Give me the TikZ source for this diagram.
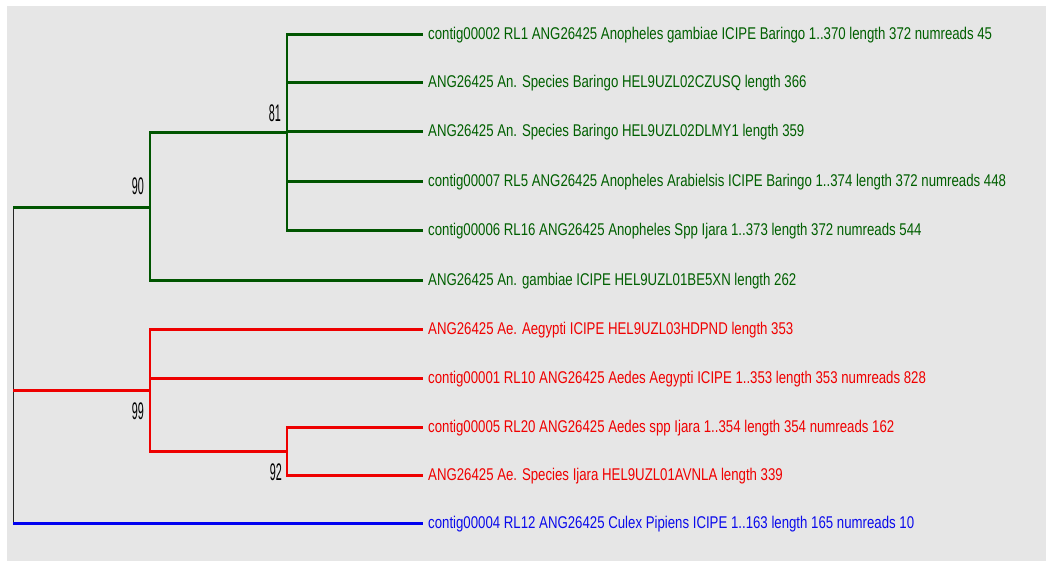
\documentclass[tikz,border=0pt]{standalone}
\usepackage{fontspec}
\newfontfamily\lblfont{Liberation Sans}[FakeStretch=0.778]
\newfontfamily\numfont{Liberation Sans}[FakeStretch=0.45]
\definecolor{gline}{RGB}{0,85,0}
\definecolor{gtext}{RGB}{0,95,0}
\definecolor{rline}{RGB}{238,0,0}
\definecolor{rtext}{RGB}{240,0,0}
\definecolor{bline}{RGB}{0,0,240}
\definecolor{btext}{RGB}{10,10,235}
\definecolor{bg}{RGB}{230,230,230}
\tikzset{
  hor/.style={line width=3pt,line cap=butt},
  vert/.style={line width=2pt,line cap=rect,shorten <=-0.5pt,shorten >=-0.5pt},
  leaf/.style={anchor=base west,inner sep=0pt,font=\lblfont\fontsize{17}{19}\selectfont},
  boot/.style={anchor=south east,inner sep=0pt,font=\numfont\fontsize{24}{26}\selectfont,text=black},
}
\begin{document}
\begin{tikzpicture}[x=1pt,y=-1pt]
\useasboundingbox (0,0) rectangle (1046,561);
\fill[bg] (7,6) rectangle (1046,561);
% internal nodes
\coordinate (r90) at (13,208);
\coordinate (r99) at (13,390);
\coordinate (r4) at (13,523);
\coordinate (n90) at (150,208);
\coordinate (n81) at (287,133);
\coordinate (n99) at (150,390);
\coordinate (n92) at (287,451);
% leaf ends
\foreach \i/\y in {1/35,2/83,3/132,4/182,5/231,6/280,7/329,8/378,9/427,10/475,11/523}
  \coordinate (e\i) at (423,\y);
% leaf labels
\tikzset{lpos/.style={xshift=5pt,yshift=-5pt}}
\node[leaf,text=gtext] (t1) at ([lpos]e1) {contig00002 RL1 ANG26425 Anopheles gambiae ICIPE Baringo 1..370 length 372 numreads 45};
\node[leaf,text=gtext] (t2) at ([lpos]e2) {ANG26425 An. Species Baringo HEL9UZL02CZUSQ length 366};
\node[leaf,text=gtext] (t3) at ([lpos]e3) {ANG26425 An. Species Baringo HEL9UZL02DLMY1 length 359};
\node[leaf,text=gtext] (t4) at ([lpos]e4) {contig00007 RL5 ANG26425 Anopheles Arabielsis ICIPE Baringo 1..374 length 372 numreads 448};
\node[leaf,text=gtext] (t5) at ([lpos]e5) {contig00006 RL16 ANG26425 Anopheles Spp Ijara 1..373 length 372 numreads 544};
\node[leaf,text=gtext] (t6) at ([lpos]e6) {ANG26425 An. gambiae ICIPE HEL9UZL01BE5XN length 262};
\node[leaf,text=rtext] (t7) at ([lpos]e7) {ANG26425 Ae. Aegypti ICIPE HEL9UZL03HDPND length 353};
\node[leaf,text=rtext] (t8) at ([lpos]e8) {contig00001 RL10 ANG26425 Aedes Aegypti ICIPE 1..353 length 353 numreads 828};
\node[leaf,text=rtext] (t9) at ([lpos]e9) {contig00005 RL20 ANG26425 Aedes spp Ijara 1..354 length 354 numreads 162};
\node[leaf,text=rtext] (t10) at ([lpos]e10) {ANG26425 Ae. Species Ijara HEL9UZL01AVNLA length 339};
\node[leaf,text=btext] (t11) at ([lpos]e11) {contig00004 RL12 ANG26425 Culex Pipiens ICIPE 1..163 length 165 numreads 10};
% root
\draw[line width=1pt,black!85] (r90) -- (r4);
% green clade
\draw[hor,gline] (r90) -- (n90);
\draw[vert,gline] (n90 |- n81) -- (n90 |- e6);
\draw[hor,gline] (n90 |- n81) -- (n81);
\draw[vert,gline] (n81 |- e1) -- (n81 |- e5);
\foreach \i in {1,...,5} \draw[hor,gline] (n81 |- e\i) -- (e\i);
\draw[hor,gline] (n90 |- e6) -- (e6);
% red clade
\draw[hor,rline] (r99) -- (n99);
\draw[vert,rline] (n99 |- e7) -- (n99 |- n92);
\draw[hor,rline] (n99 |- e7) -- (e7);
\draw[hor,rline] (n99 |- e8) -- (e8);
\draw[hor,rline] (n99 |- n92) -- (n92);
\draw[vert,rline] (n92 |- e9) -- (n92 |- e10);
\draw[hor,rline] (n92 |- e9) -- (e9);
\draw[hor,rline] (n92 |- e10) -- (e10);
% blue
\draw[hor,bline] (r4) -- (e11);
% bootstrap values
\node[boot] (b90) at (144,195) {90};
\node[boot] (b81) at (281,122) {81};
\node[boot] (b99) at (144,420) {99};
\node[boot] (b92) at (282,481) {92};
\end{tikzpicture}
\end{document}
